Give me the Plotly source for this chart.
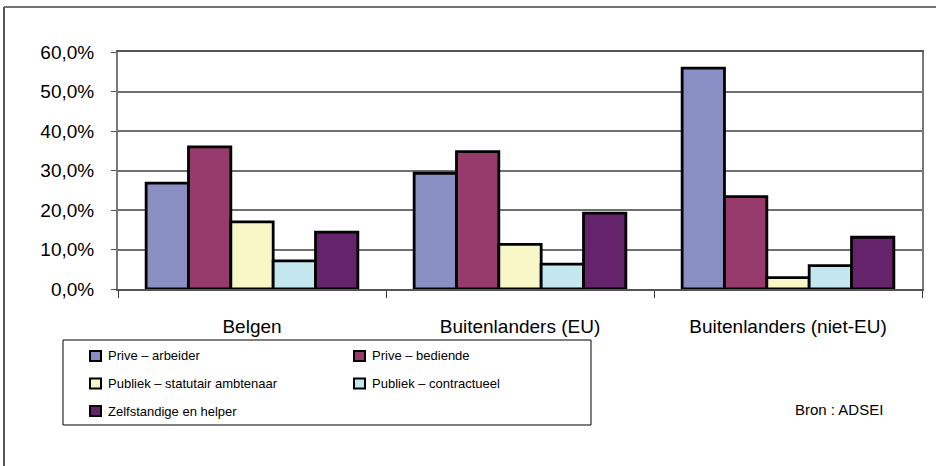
import plotly.graph_objects as go

categories = ["Belgen", "Buitenlanders (EU)", "Buitenlanders (niet-EU)"]
series_names = [
    "Prive – arbeider",
    "Prive – bediende",
    "Publiek – statutair ambtenaar",
    "Publiek – contractueel",
    "Zelfstandige en helper",
]
prive_arbeider = [0.268, 0.293, 0.559]
prive_bediende = [0.360, 0.348, 0.234]
publiek_statutair = [0.170, 0.113, 0.029]
publiek_contractueel = [0.071, 0.063, 0.059]
zelfstandige = [0.144, 0.192, 0.131]
y_ticks = [0.0, 0.1, 0.2, 0.3, 0.4, 0.5, 0.6]
source_note = "Bron : ADSEI"

series_values = [prive_arbeider, prive_bediende, publiek_statutair, publiek_contractueel, zelfstandige]
colors = ["#8A8FC3", "#973B6C", "#F8F7C8", "#C3E6EF", "#64236A"]

W, H = 936, 466
L, R, T, B = 118, 14, 52, 177
PW, PH = W - L - R, H - T - B
FONT = "Liberation Sans, Arial, sans-serif"


def px(x):
    """ pixel x -> paper x """
    return (x - L) / PW


def py(y):
    """ pixel y -> paper y """
    return (H - B - y) / PH


fig = go.Figure()
for name, vals, col in zip(series_names, series_values, colors):
    fig.add_trace(go.Bar(x=categories, y=vals, name=name, marker=dict(color=col, line=dict(color="black", width=2.8)),
                         showlegend=False))

fig.update_layout(
    width=W, height=H, autosize=False,
    margin=dict(l=L, r=R, t=T, b=B),
    paper_bgcolor="white", plot_bgcolor="white",
    barmode="group", bargap=0.21, bargroupgap=0,
    separators=",.",
    font=dict(family=FONT, color="black", size=19),
)
fig.update_xaxes(type="category", tickson="boundaries", ticks="outside", ticklen=7, tickcolor="#333",
                 showline=True, linecolor="#555", linewidth=2, mirror=True, showgrid=False,
                 tickfont=dict(size=19), ticklabelstandoff=19)
fig.update_yaxes(range=[0, 0.6], tickvals=y_ticks, tickformat=".1%", ticks="outside", ticklen=5, tickcolor="#555",
                 showline=True, linecolor="#777", linewidth=2, mirror=True, showgrid=True, gridcolor="#707070",
                 gridwidth=1.5, zeroline=False, tickfont=dict(size=19), ticklabelstandoff=13)

shapes = [
    # outer frame (left and top edges)
    dict(type="line", xref="paper", yref="paper", x0=px(4), x1=px(940), y0=py(7), y1=py(7),
         line=dict(color="#444", width=1.5)),
    dict(type="line", xref="paper", yref="paper", x0=px(4), x1=px(4), y0=py(7), y1=py(470),
         line=dict(color="#555", width=2)),
    # legend box
    dict(type="rect", xref="paper", yref="paper", x0=px(63), x1=px(591), y0=py(425), y1=py(340),
         line=dict(color="black", width=1)),
]
annotations = []
for i, (name, col) in enumerate(zip(series_names, colors)):
    row, c = divmod(i, 2)
    x_sq = 90 + c * 264
    y_mid = 356 + row * 27.5
    shapes.append(dict(type="rect", xref="paper", yref="paper", x0=px(x_sq), x1=px(x_sq + 11),
                       y0=py(y_mid + 5), y1=py(y_mid - 5), fillcolor=col, line=dict(color="black", width=2)))
    annotations.append(dict(xref="paper", yref="paper", x=px(x_sq + 16), y=py(y_mid), text=name, showarrow=False,
                            xanchor="left", yanchor="middle", font=dict(size=13)))

annotations.append(dict(xref="paper", yref="paper", x=px(793), y=py(409), text=source_note, showarrow=False,
                        xanchor="left", yanchor="middle", font=dict(size=15)))

fig.update_layout(shapes=shapes, annotations=annotations)
# no default body margin, so the figure sits at the window's top-left corner
fig.write_html("out.html", config={"displayModeBar": False},
               post_script="document.body.style.margin = '0';")
